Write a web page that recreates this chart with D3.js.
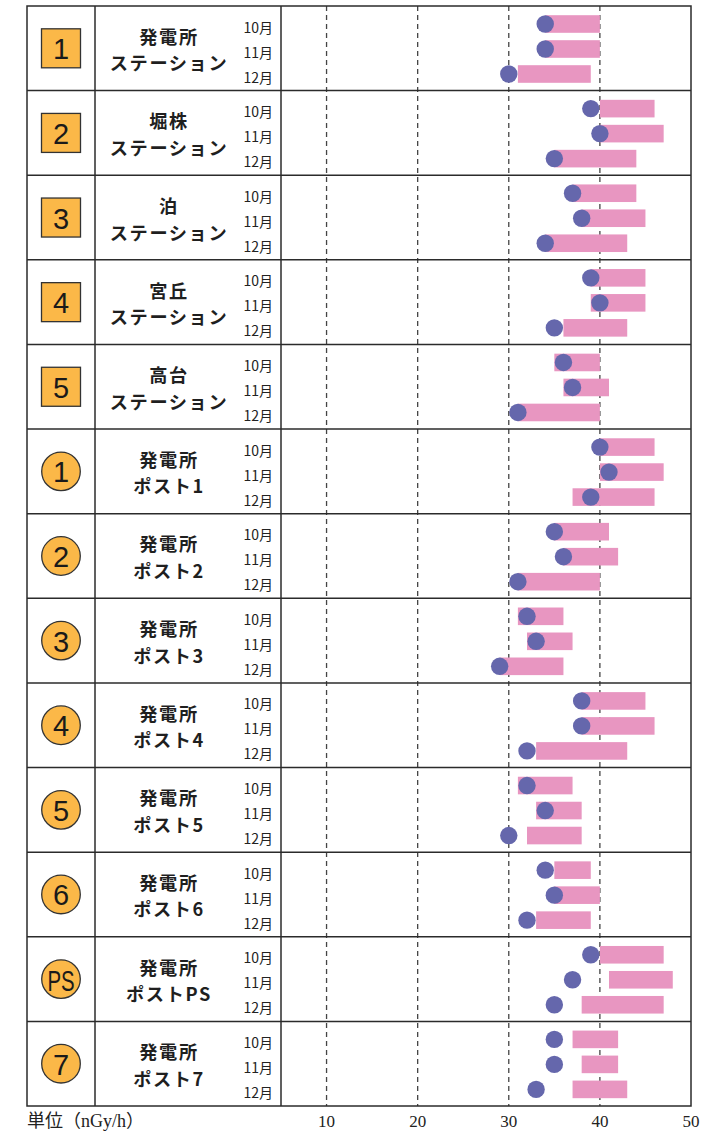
<!DOCTYPE html>
<html><head><meta charset="utf-8">
<script src="https://cdn.jsdelivr.net/npm/d3@7"></script>
<style>body{margin:0;background:#fff}svg{display:block}</style>
</head><body>
<script>
// ---- data ----
const iconLabels = ["1","2","3","4","5","1","2","3","4","5","6","PS","7"];
const iconShapes = ["square","square","square","square","square","circle","circle","circle","circle","circle","circle","circle","circle"];
const nameLine1 = ["発電所","堀株","泊","宮丘","高台","発電所","発電所","発電所","発電所","発電所","発電所","発電所","発電所"];
const nameLine2 = ["ステーション","ステーション","ステーション","ステーション","ステーション","ポスト1","ポスト2","ポスト3","ポスト4","ポスト5","ポスト6","ポストPS","ポスト7"];
const months = ["10月","11月","12月"];
// measured values (dots), per station: [Oct, Nov, Dec]
const measured = [
  [34,34,30],[39,40,35],[37,38,34],[39,40,35],[36,37,31],
  [40,41,39],[35,36,31],[32,33,29],[38,38,32],[32,34,30],
  [34,35,32],[39,37,35],[35,35,33]
];
// past range (bars): min and max
const rangeMin = [
  [34,34,31],[40,40,35],[37,38,34],[39,39,36],[35,36,31],
  [40,40,37],[35,36,31],[31,32,29],[38,38,33],[31,33,32],
  [35,35,33],[40,41,38],[37,38,37]
];
const rangeMax = [
  [40,40,39],[46,47,44],[44,45,43],[45,45,43],[40,41,40],
  [46,47,46],[41,42,40],[36,37,36],[45,46,43],[37,38,38],
  [39,40,39],[47,48,47],[42,42,43]
];
const xTicks = [10,20,30,40,50];
const unitLabel = "単位（nGy/h）";

// ---- layout ----
const W = 722, H = 1131;
const gLeft = 27, col1 = 95, col2 = 281, gRight = 691, gTop = 6, gBottom = 1106;
const svg = d3.select("body").append("svg").attr("width", W).attr("height", H);

const x = d3.scaleLinear().domain([5,50]).range([col2, gRight]);
const y = d3.scaleBand().domain(d3.range(iconLabels.length)).range([gTop, gBottom]);
const ym = d3.scalePoint().domain(months).range([18, 68]);

const lineColor = "#2b2b2b";
const sans = "'Noto Sans CJK JP','Noto Sans',sans-serif";
const serif = "'Liberation Serif','DejaVu Serif','Noto Sans CJK JP',serif";

// gridlines
svg.append("g").selectAll("line").data(xTicks.filter(t => t < 50)).join("line")
  .attr("x1", d => x(d)).attr("x2", d => x(d))
  .attr("y1", gTop).attr("y2", gBottom)
  .attr("stroke", "#444").attr("stroke-width", 1.3).attr("stroke-dasharray", "5,4");

// rows
const rows = svg.append("g").selectAll("g").data(iconLabels.map((d,i)=>i)).join("g")
  .attr("transform", i => `translate(0,${y(i)})`);

rows.each(function(i){
  const g = d3.select(this);
  months.forEach((m, j) => {
    const cy = ym(m);
    g.append("rect")
      .attr("x", x(rangeMin[i][j])).attr("width", x(rangeMax[i][j]) - x(rangeMin[i][j]))
      .attr("y", cy - 8.8).attr("height", 17.6)
      .attr("fill", "#E896C1");
  });
  months.forEach((m, j) => {
    g.append("circle")
      .attr("cx", x(measured[i][j])).attr("cy", ym(m)).attr("r", 8.7)
      .attr("fill", "#6567AC");
    g.append("text")
      .attr("x", 273).attr("y", ym(m) + 2.5)
      .attr("text-anchor", "end").attr("dominant-baseline", "central")
      .attr("font-family", sans).attr("font-size", 14).attr("fill", "#222")
      .text(m);
  });
  // names (two lines)
  const t = g.append("text").attr("text-anchor", "middle")
    .attr("font-family", sans).attr("font-weight", 700).attr("font-size", 18.2)
    .attr("letter-spacing", 1.6).attr("fill", "#1f1f1f");
  t.append("tspan").attr("x", 169).attr("y", 37.8).text(nameLine1[i]);
  t.append("tspan").attr("x", 169).attr("y", 64.3).text(nameLine2[i]);
  // icon
  const cx = 61, cyc = y.bandwidth()/2;
  if (iconShapes[i] === "square") {
    g.append("rect").attr("x", cx - 19.5).attr("y", cyc - 19.5).attr("width", 39).attr("height", 39)
      .attr("fill", "#FBB848").attr("stroke", "#333").attr("stroke-width", 1.3);
  } else {
    g.append("circle").attr("cx", cx).attr("cy", cyc).attr("r", 19.3)
      .attr("fill", "#FBB848").attr("stroke", "#333").attr("stroke-width", 1.3);
  }
  const isPS = iconLabels[i] === "PS";
  g.append("text").attr("x", cx).attr("y", cyc + 1).attr("text-anchor", "middle")
    .attr("dominant-baseline", "central").attr("font-family", "'Liberation Sans','Noto Sans',sans-serif")
    .attr("font-size", isPS ? 30 : 29).attr("fill", "#1a1a1a")
    .attr("transform", isPS ? `translate(${cx},0) scale(0.68,1) translate(${-cx},0)` : null)
    .text(iconLabels[i]);
});

// row separators
svg.append("g").selectAll("line").data(d3.range(1, iconLabels.length)).join("line")
  .attr("x1", gLeft).attr("x2", gRight).attr("y1", i => y(i)).attr("y2", i => y(i))
  .attr("stroke", lineColor).attr("stroke-width", 1.5);
[col1, col2].forEach(cx => svg.append("line").attr("x1", cx).attr("x2", cx).attr("y1", gTop).attr("y2", gBottom)
  .attr("stroke", lineColor).attr("stroke-width", 1.5));
svg.append("rect").attr("x", gLeft).attr("y", gTop).attr("width", gRight-gLeft).attr("height", gBottom-gTop)
  .attr("fill", "none").attr("stroke", lineColor).attr("stroke-width", 1.5);

// axis tick labels
svg.append("g").selectAll("text").data(xTicks).join("text")
  .attr("x", d => x(d)).attr("y", 1127).attr("text-anchor", "middle")
  .attr("font-family", serif).attr("font-size", 17).attr("fill", "#222").text(d => d);
svg.append("text").attr("x", 27).attr("y", 1127)
  .attr("font-family", serif).attr("font-size", 18).attr("fill", "#222").text(unitLabel);
</script>
</body></html>
